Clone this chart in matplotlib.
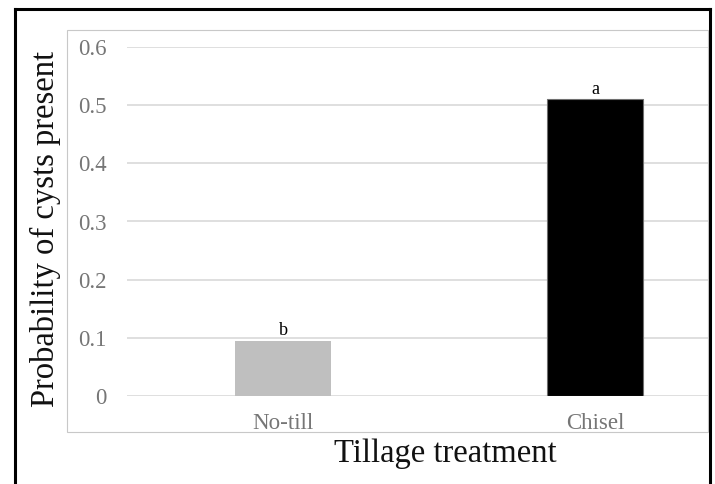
import matplotlib
matplotlib.use("Agg")
import matplotlib.pyplot as plt
from matplotlib.lines import Line2D
from matplotlib.patches import Rectangle

categories = ["No-till", "Chisel"]
values = [0.095, 0.51]
letters = ["b", "a"]
bar_colors = ["#bfbfbf", "#000000"]
yticks = [0, 0.1, 0.2, 0.3, 0.4, 0.5, 0.6]
ytick_labels = ["0", "0.1", "0.2", "0.3", "0.4", "0.5", "0.6"]

plt.rcParams['font.family'] = ['Liberation Serif', 'DejaVu Serif']

W, H = 715, 484
fig = plt.figure(figsize=(W / 100, H / 100), dpi=100)

def fx(px):
    return px / W

def fy(py):
    return 1 - py / H

# outer black frame (left, top, right)
frame_kw = dict(color="black", lw=2.2, transform=fig.transFigure, solid_capstyle="projecting")
fig.add_artist(Line2D([fx(15.5), fx(15.5)], [fy(8.5), fy(490)], **frame_kw))
fig.add_artist(Line2D([fx(15.5), fx(710)], [fy(8.5), fy(8.5)], **frame_kw))
fig.add_artist(Line2D([fx(710), fx(710)], [fy(8.5), fy(490)], **frame_kw))

# chart area light border
fig.add_artist(Rectangle((fx(67), fy(432)), fx(708) - fx(67), fy(30) - fy(432),
                         transform=fig.transFigure, fill=False, edgecolor="#c8c8c8", lw=0.8))

ax = fig.add_axes([fx(127), fy(396), (708 - 127) / W, (396 - 47) / H])
x = list(range(len(categories)))
bars = ax.bar(x, values, width=0.31, color=bar_colors, zorder=3)
bars[1].set_edgecolor("#6f6f6f")
bars[1].set_linewidth(0.8)

for xi, v, lab in zip(x, values, letters):
    ax.annotate(lab, (xi, v), xytext=(0, 1), textcoords="offset points",
                ha="center", va="bottom", fontsize=13, color="black", zorder=4)

ax.set_ylim(0, 0.6)
ax.set_xlim(-0.5, 1.362)
ax.set_yticks(yticks)
ax.set_yticklabels(ytick_labels)
ax.set_xticks(x)
ax.set_xticklabels(categories)
ax.tick_params(axis="y", length=0, pad=14.5, labelsize=16.5, labelcolor="#767676")
ax.tick_params(axis="x", length=0, pad=12, labelsize=16.5, labelcolor="#767676")
ax.grid(axis="y", color="#d9d9d9", lw=1.2, zorder=0)
ax.set_axisbelow(True)
for s in ax.spines.values():
    s.set_visible(False)
ax.patch.set_alpha(0)

fig.text(fx(45), fy(228.5), "Probability of cysts present", rotation=90,
         ha="center", va="center", fontsize=23.5, color="#111111")
fig.text(fx(445), fy(462), "Tillage treatment", ha="center", va="baseline",
         fontsize=23.5, color="#111111")

fig.savefig("out.png", dpi=100)
